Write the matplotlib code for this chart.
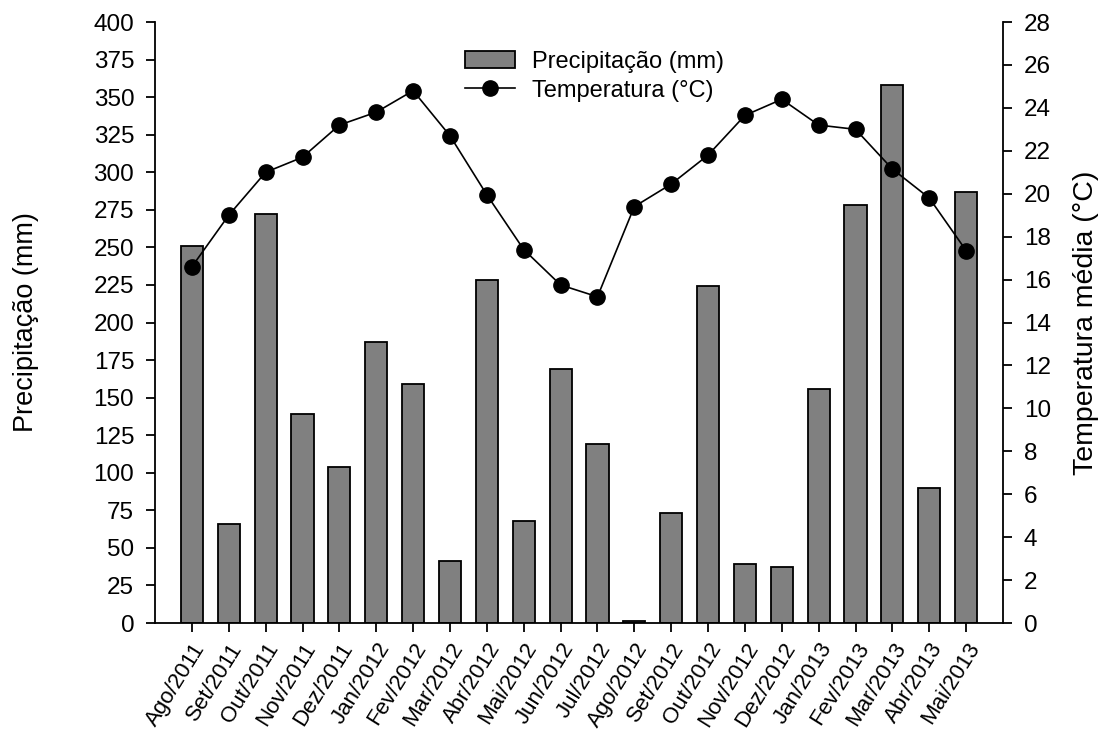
import matplotlib
matplotlib.use("Agg")
import matplotlib.pyplot as plt
from matplotlib.lines import Line2D
from matplotlib.patches import Patch
import numpy as np

plt.rcParams['font.family'] = ['Liberation Sans', 'DejaVu Sans']

meses = ["Ago/2011", "Set/2011", "Out/2011", "Nov/2011", "Dez/2011", "Jan/2012",
         "Fev/2012", "Mar/2012", "Abr/2012", "Mai/2012", "Jun/2012", "Jul/2012",
         "Ago/2012", "Set/2012", "Out/2012", "Nov/2012", "Dez/2012", "Jan/2013",
         "Fev/2013", "Mar/2013", "Abr/2013", "Mai/2013"]
precipitacao = [251, 66, 272, 139, 104, 187, 159, 41, 228, 68, 169, 119,
                1.5, 73, 224, 39, 37, 156, 278, 358, 90, 287]
temperatura = [16.6, 19.0, 21.0, 21.7, 23.2, 23.8, 24.8, 22.7, 19.95, 17.4, 15.75, 15.2,
               19.4, 20.45, 21.8, 23.65, 24.4, 23.2, 23.0, 21.15, 19.8, 17.35]

x = np.arange(len(meses))

fig = plt.figure(figsize=(11.05, 7.34), dpi=100)
ax = fig.add_axes([0.1403, 0.1512, 0.7674, 0.8188])
ax2 = ax.twinx()

ax.bar(x, precipitacao, width=0.6, color="#808080", edgecolor="black", linewidth=1.3, zorder=2)
ax2.plot(x, temperatura, color="black", linewidth=1.2, marker="o", markersize=11,
         markerfacecolor="black", markeredgecolor="black", zorder=3)

ax.set_xlim(-1, 22)
ax.set_ylim(0, 400)
ax2.set_ylim(0, 28)
ax.set_yticks(np.arange(0, 401, 25))
ax2.set_yticks(np.arange(0, 29, 2))
ax.set_xticks(x)

for a in (ax, ax2):
    a.spines["top"].set_visible(False)
    for s in ("left", "right", "bottom"):
        a.spines[s].set_linewidth(1.3)
    a.tick_params(direction="out", length=6.5, width=1.3, labelsize=17.5)
    a.tick_params(axis="y", pad=8.5)
ax.tick_params(axis="x", pad=5)
ax.spines["right"].set_visible(False)
ax2.spines["left"].set_visible(False)
ax2.spines["bottom"].set_visible(False)

ax.set_xticklabels(meses, rotation=58, ha="right", rotation_mode="anchor", fontsize=16)

ax.set_ylabel("Precipitação (mm)", fontsize=19.5, labelpad=39)
ax2.set_ylabel("Temperatura média (°C)", fontsize=20.5, labelpad=16)

handles = [Patch(facecolor="#808080", edgecolor="black", linewidth=1.3),
           Line2D([], [], color="black", linewidth=1.2, marker="o", markersize=11)]
fig.legend(handles, ["Precipitação (mm)", "Temperatura (°C)"], loc="upper left",
           bbox_to_anchor=(0.402, 0.96), frameon=False, fontsize=17,
           handlelength=2.1, handletextpad=0.7, labelspacing=0.3)

fig.savefig("out.png", dpi=100)
